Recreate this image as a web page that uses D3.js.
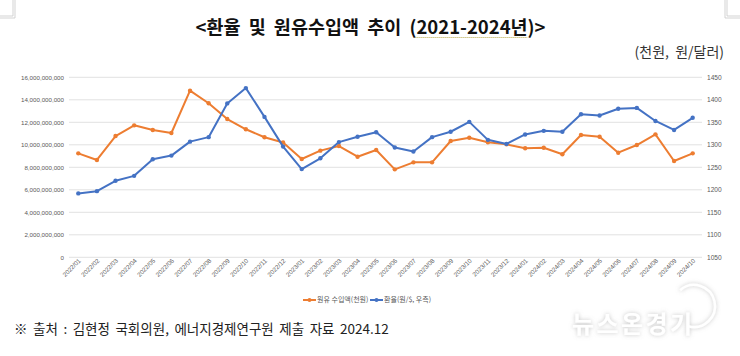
<!DOCTYPE html>
<html>
<head>
<meta charset="utf-8">
<script src="https://cdn.jsdelivr.net/npm/d3@7"></script>
<style>
  html, body { margin: 0; padding: 0; background: #fff; }
  svg { display: block; }
</style>
</head>
<body>
<svg id="chart" width="740" height="356"></svg>
<script>
const months = ["2022/01","2022/02","2022/03","2022/04","2022/05","2022/06","2022/07","2022/08","2022/09","2022/10","2022/11","2022/12",
  "2023/01","2023/02","2023/03","2023/04","2023/05","2023/06","2023/07","2023/08","2023/09","2023/10","2023/11","2023/12",
  "2024/01","2024/02","2024/03","2024/04","2024/05","2024/06","2024/07","2024/08","2024/09","2024/10"];
// 원유 수입액 (천원)
const oilImport = [9.24e9, 8.65e9, 10.78e9, 11.73e9, 11.32e9, 11.05e9, 14.81e9, 13.69e9, 12.29e9, 11.38e9, 10.67e9, 10.2e9,
  8.74e9, 9.48e9, 9.89e9, 8.94e9, 9.54e9, 7.82e9, 8.44e9, 8.44e9, 10.34e9, 10.63e9, 10.22e9, 10.04e9,
  9.69e9, 9.74e9, 9.16e9, 10.87e9, 10.72e9, 9.3e9, 9.98e9, 10.93e9, 8.56e9, 9.24e9];
// 환율 (원/$, 우측)
const exchangeRate = [1192, 1197, 1220, 1231, 1268, 1276, 1307, 1317, 1392, 1426, 1362, 1296,
  1246, 1270, 1306, 1318, 1328, 1294, 1285, 1317, 1329, 1351, 1311, 1302,
  1323, 1331, 1329, 1368, 1365, 1380, 1382, 1353, 1333, 1360];
const leftTicks = [0, 2e9, 4e9, 6e9, 8e9, 10e9, 12e9, 14e9, 16e9];
const rightTicks = [1050, 1100, 1150, 1200, 1250, 1300, 1350, 1400, 1450];
const titleMain = "<환율 및 원유수입액 추이 ";
const titleYears = "(2021-2024년)";
const titleEnd = ">";
const unitLabel = "(천원, 원/달러)";
const legendLabels = ["원유 수입액(천원)", "환율(원/$, 우측)"];
const sourceText = "※ 출처 : 김현정 국회의원, 에너지경제연구원 제출 자료 2024.12";
const watermark = "뉴스온경기";

const svg = d3.select("#chart");
const KR = "'Noto Sans CJK KR', 'Noto Sans', sans-serif";
const NUM = "'Liberation Sans', Arial, sans-serif";
const orange = "#ED7D31", blue = "#4472C4";

// page corner marks
const corner = svg.append("g").attr("stroke", "#c8c8c8").attr("fill", "none").attr("stroke-width", 0.8);
corner.append("path").attr("d", "M15,0 V18 H0 M13,0 V16 H0");
corner.append("path").attr("d", "M725,0 V18 H740 M727,0 V16 H740");

const x = d3.scaleBand().domain(months).range([69, 702]);
const cx = d => x(d) + x.bandwidth() / 2;
const yL = d3.scaleLinear().domain([0, 16e9]).range([257.3, 77.3]);
const yR = d3.scaleLinear().domain([1050, 1450]).range([257.3, 77.3]);

// gridlines
svg.append("g").selectAll("line").data(leftTicks).join("line")
  .attr("x1", 69).attr("x2", 702)
  .attr("y1", d => yL(d)).attr("y2", d => yL(d))
  .attr("stroke", "#d9d9d9").attr("stroke-width", 0.8);

// left axis
const gL = svg.append("g").attr("transform", "translate(64,0)")
  .call(d3.axisLeft(yL).tickValues(leftTicks).tickFormat(d3.format(",")).tickSize(0).tickPadding(0));
gL.select(".domain").remove();
gL.selectAll("text").attr("font-family", NUM).attr("font-size", 6.2).attr("fill", "#595959");

// right axis
const gR = svg.append("g").attr("transform", "translate(707,0)")
  .call(d3.axisRight(yR).tickValues(rightTicks).tickFormat(d3.format("d")).tickSize(0).tickPadding(0));
gR.select(".domain").remove();
gR.selectAll("text").attr("font-family", NUM).attr("font-size", 6.6).attr("fill", "#595959");

// x axis labels
const gX = svg.append("g").attr("transform", "translate(0,261)")
  .call(d3.axisBottom(x).tickSize(0).tickPadding(0));
gX.select(".domain").remove();
gX.selectAll("text")
  .attr("font-family", NUM).attr("font-size", 6.3).attr("fill", "#595959")
  .attr("text-anchor", "end").attr("x", 2).attr("y", 0).attr("dy", "0.35em")
  .attr("transform", "rotate(-45)");

// lines
const lineOil = d3.line().x((d, i) => cx(months[i])).y(d => yL(d));
const lineFx = d3.line().x((d, i) => cx(months[i])).y(d => yR(d));
svg.append("path").datum(oilImport).attr("d", lineOil)
  .attr("fill", "none").attr("stroke", orange).attr("stroke-width", 2).attr("stroke-linejoin", "round");
svg.append("g").selectAll("circle").data(oilImport).join("circle")
  .attr("cx", (d, i) => cx(months[i])).attr("cy", d => yL(d)).attr("r", 2.2).attr("fill", orange);
svg.append("path").datum(exchangeRate).attr("d", lineFx)
  .attr("fill", "none").attr("stroke", blue).attr("stroke-width", 2).attr("stroke-linejoin", "round");
svg.append("g").selectAll("circle").data(exchangeRate).join("circle")
  .attr("cx", (d, i) => cx(months[i])).attr("cy", d => yR(d)).attr("r", 2.2).attr("fill", blue);

// legend
const legendItems = [{label: legendLabels[0], color: orange, x: 303}, {label: legendLabels[1], color: blue, x: 370}];
const lg = svg.append("g").selectAll("g").data(legendItems).join("g")
  .attr("transform", d => `translate(${d.x},300)`);
lg.append("line").attr("x1", 0).attr("x2", 13).attr("stroke", d => d.color).attr("stroke-width", 2);
lg.append("circle").attr("cx", 6.5).attr("r", 2).attr("fill", d => d.color);
lg.append("text").attr("x", 14).attr("dy", "0.35em").text(d => d.label)
  .attr("font-family", KR).attr("font-size", 7).attr("fill", "#595959");

// title
const title = svg.append("text").attr("x", 370.5).attr("y", 34).attr("text-anchor", "middle")
  .attr("font-family", KR).attr("font-size", 18.5).attr("font-weight", "bold").attr("fill", "#111")
  .attr("word-spacing", 4);
title.append("tspan").text(titleMain);
title.append("tspan").text(titleYears);
title.append("tspan").text(titleEnd);
// spell-check style dotted underline under years
try {
  const node = title.node();
  const start = node.getStartPositionOfChar(titleMain.length);
  const end = node.getEndPositionOfChar(titleMain.length + titleYears.length - 2);
  svg.append("line").attr("x1", start.x + 6).attr("x2", end.x).attr("y1", 37.5).attr("y2", 37.5)
    .attr("stroke", "#b5a642").attr("stroke-width", 1).attr("stroke-dasharray", "1,1");
} catch (e) {}

svg.append("text").attr("x", 724).attr("y", 57).attr("text-anchor", "end")
  .attr("font-family", KR).attr("font-size", 14).attr("fill", "#333").attr("word-spacing", 3).text(unitLabel);

// source
svg.append("text").attr("x", 14).attr("y", 334)
  .attr("font-family", KR).attr("font-size", 13.5).attr("fill", "#222").attr("word-spacing", 2.5).text(sourceText);

// watermark
const defs = svg.append("defs");
const f = defs.append("filter").attr("id", "wmShadow").attr("x", "-20%").attr("y", "-40%").attr("width", "140%").attr("height", "180%");
f.append("feDropShadow").attr("dx", 0).attr("dy", 0).attr("stdDeviation", 2.2)
  .attr("flood-color", "#8a8a8a").attr("flood-opacity", 0.5);
const wm = svg.append("g").attr("filter", "url(#wmShadow)");
const p = d3.path();
p.arc(694, 306, 21, -2.29, 1.85);
wm.append("path").attr("d", p.toString()).attr("fill", "none").attr("stroke", "#fff").attr("stroke-width", 2.5);
wm.append("text").attr("x", 572).attr("y", 333).attr("font-family", KR).attr("font-size", 24)
  .attr("font-weight", "bold").attr("fill", "#fff").attr("textLength", 120).text(watermark);
</script>
</body>
</html>
